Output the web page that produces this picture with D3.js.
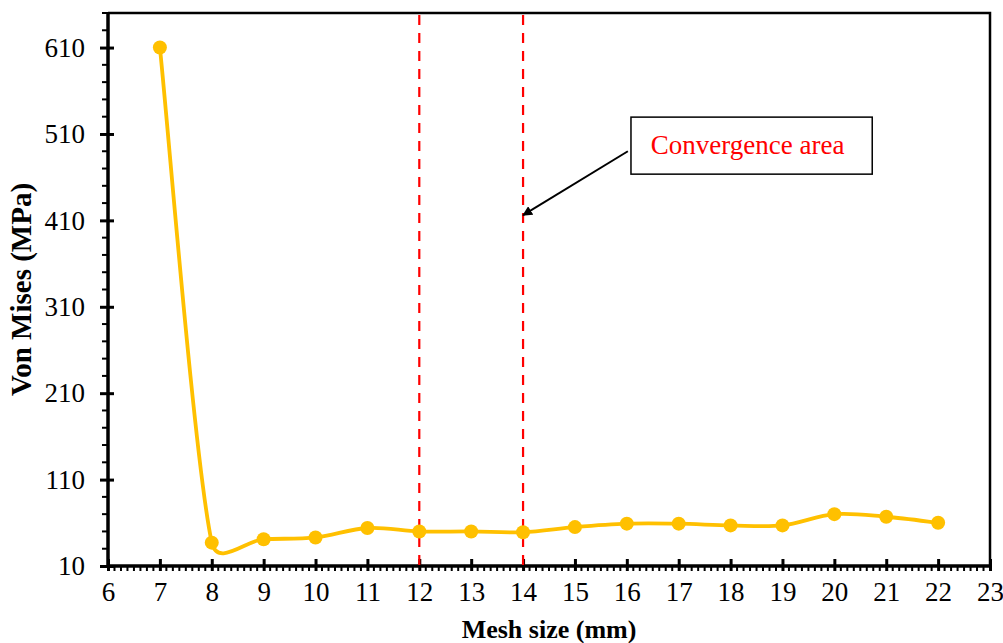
<!DOCTYPE html>
<html>
<head>
<meta charset="utf-8">
<script src="https://cdn.jsdelivr.net/npm/d3@7"></script>
<style>
  html, body { margin: 0; padding: 0; background: #fff; }
  svg { display: block; }
  text { font-family: "Liberation Serif", "Times New Roman", serif; fill: #000; }
</style>
</head>
<body>
<svg id="chart" width="1003" height="643"></svg>
<script>
// Mesh sensitivity study: peak von Mises stress vs. element size
const meshSize = [7, 8, 9, 10, 11, 12, 13, 14, 15, 16, 17, 18, 19, 20, 21, 22];
const vonMises = [610, 37, 41, 43, 54, 50, 50, 49, 55, 59, 59, 57, 57, 70, 67, 60];

const xTicks = d3.range(6, 24, 1);
const yTicks = d3.range(10, 611, 100);
const convergenceBounds = [12, 14];

// Callout: box corners and arrow, in data units
const calloutText = "Convergence area";
const calloutBox = { x0: 16.08, x1: 20.73, y0: 463.5, y1: 529.5 };
const calloutArrow = { from: [16.02, 490], to: [14, 416] };

const svg = d3.select("#chart");
const plotLeft = 108, plotRight = 990, plotTop = 13, plotBottom = 566;

const x = d3.scaleLinear().domain([6, 23]).range([plotLeft, plotRight]);
const y = d3.scaleLinear().domain([10, 650]).range([plotBottom, plotTop]);

const lineColor = "#FFC000";

// Spreadsheet-style smoothing: cubic Bezier segments whose control arms are
// (next - prev) / 6, capped at half the segment length.
function smoothPath(p) {
  const path = d3.path();
  const dist = (a, b) => Math.hypot(b[0] - a[0], b[1] - a[1]);
  path.moveTo(p[0][0], p[0][1]);
  for (let i = 0; i < p.length - 1; i++) {
    const p0 = p[i - 1] || p[i], p1 = p[i], p2 = p[i + 1], p3 = p[i + 2] || p[i + 1];
    const d12 = dist(p1, p2), d02 = dist(p0, p2), d13 = dist(p1, p3);
    const f1 = d02 > 0 ? Math.min(1 / 6, d12 / (2 * d02)) : 0;
    const f2 = d13 > 0 ? Math.min(1 / 6, d12 / (2 * d13)) : 0;
    path.bezierCurveTo(
      p1[0] + (p2[0] - p0[0]) * f1, p1[1] + (p2[1] - p0[1]) * f1,
      p2[0] - (p3[0] - p1[0]) * f2, p2[1] - (p3[1] - p1[1]) * f2,
      p2[0], p2[1]);
  }
  return path.toString();
}

// Frame: top and right borders
svg.append("path")
  .attr("d", `M${plotLeft},${plotTop}H${plotRight}V${plotBottom}`)
  .attr("fill", "none")
  .attr("stroke", "#000")
  .attr("stroke-width", 2.5);

// Minor ticks
const xMinor = d3.range(6, 23.0001, 0.125).filter(v => Math.abs(v - Math.round(v)) > 1e-6);
svg.append("g").selectAll("line").data(xMinor).join("line")
  .attr("x1", d => x(d)).attr("x2", d => x(d))
  .attr("y1", plotBottom).attr("y2", plotBottom + 5)
  .attr("stroke", "#000").attr("stroke-width", 2);

const yMinor = d3.range(10, 651, 20).filter(v => (v - 10) % 100 !== 0);
svg.append("g").selectAll("line").data(yMinor).join("line")
  .attr("x1", plotLeft - 6).attr("x2", plotLeft)
  .attr("y1", d => y(d)).attr("y2", d => y(d))
  .attr("stroke", "#000").attr("stroke-width", 2);

// X axis
const gx = svg.append("g")
  .attr("transform", `translate(0,${plotBottom})`)
  .call(d3.axisBottom(x).tickValues(xTicks).tickFormat(d3.format("d")).tickSize(0).tickPadding(16));
gx.select(".domain").attr("stroke-width", 3.5).attr("d", `M${plotLeft},0H${plotRight}`);
gx.selectAll(".tick line")
  .attr("y1", -7).attr("y2", 5).attr("stroke-width", 3);
gx.selectAll(".tick text")
  .attr("font-size", 27).attr("font-family", null);

// Y axis
const gy = svg.append("g")
  .attr("transform", `translate(${plotLeft},0)`)
  .call(d3.axisLeft(y).tickValues(yTicks).tickFormat(d3.format("d")).tickSize(0).tickPadding(23));
gy.select(".domain").attr("stroke-width", 3.5).attr("d", `M0,${plotTop}V${plotBottom}`);
gy.selectAll(".tick line")
  .attr("x1", -8).attr("x2", 6).attr("stroke-width", 3);
gy.selectAll(".tick text")
  .attr("font-size", 27).attr("font-family", null);

// Convergence limits
svg.append("g").selectAll("line").data(convergenceBounds).join("line")
  .attr("x1", d => x(d)).attr("x2", d => x(d))
  .attr("y1", plotTop + 2).attr("y2", plotBottom)
  .attr("stroke", "#FF0000").attr("stroke-width", 2.2)
  .attr("stroke-dasharray", "10,8");

// Smoothed stress curve
const pts = meshSize.map((m, i) => [m, vonMises[i]]);
svg.append("path")
  .attr("fill", "none")
  .attr("stroke", lineColor)
  .attr("stroke-width", 3.8)
  .attr("d", smoothPath(pts.map(d => [x(d[0]), y(d[1])])));

svg.append("g").selectAll("circle").data(pts).join("circle")
  .attr("cx", d => x(d[0])).attr("cy", d => y(d[1]))
  .attr("r", 7).attr("fill", lineColor);

// Callout
svg.append("defs").append("marker")
  .attr("id", "arrowhead")
  .attr("viewBox", "0 0 10 10")
  .attr("refX", 9).attr("refY", 5)
  .attr("markerWidth", 5).attr("markerHeight", 5)
  .attr("markerUnits", "strokeWidth")
  .attr("orient", "auto")
  .append("path").attr("d", "M0,0L10,5L0,10Z").attr("fill", "#000");

svg.append("line")
  .attr("x1", x(calloutArrow.from[0])).attr("y1", y(calloutArrow.from[1]))
  .attr("x2", x(calloutArrow.to[0])).attr("y2", y(calloutArrow.to[1]))
  .attr("stroke", "#000").attr("stroke-width", 2)
  .attr("marker-end", "url(#arrowhead)");

svg.append("rect")
  .attr("x", x(calloutBox.x0)).attr("y", y(calloutBox.y1))
  .attr("width", x(calloutBox.x1) - x(calloutBox.x0))
  .attr("height", y(calloutBox.y0) - y(calloutBox.y1))
  .attr("fill", "#fff").attr("stroke", "#000").attr("stroke-width", 1.5);

svg.append("text")
  .attr("x", (x(calloutBox.x0) + x(calloutBox.x1)) / 2 - 4)
  .attr("y", (y(calloutBox.y0) + y(calloutBox.y1)) / 2 + 8)
  .attr("text-anchor", "middle")
  .attr("font-size", 27)
  .style("fill", "#FF0000")
  .text(calloutText);

// Axis titles
svg.append("text")
  .attr("x", (plotLeft + plotRight) / 2).attr("y", 638)
  .attr("text-anchor", "middle")
  .attr("font-size", 26).attr("font-weight", "bold")
  .text("Mesh size (mm)");

svg.append("text")
  .attr("transform", `translate(31,${(plotTop + plotBottom) / 2}) rotate(-90)`)
  .attr("text-anchor", "middle")
  .attr("font-size", 29).attr("font-weight", "bold")
  .text("Von Mises (MPa)");
</script>
</body>
</html>
